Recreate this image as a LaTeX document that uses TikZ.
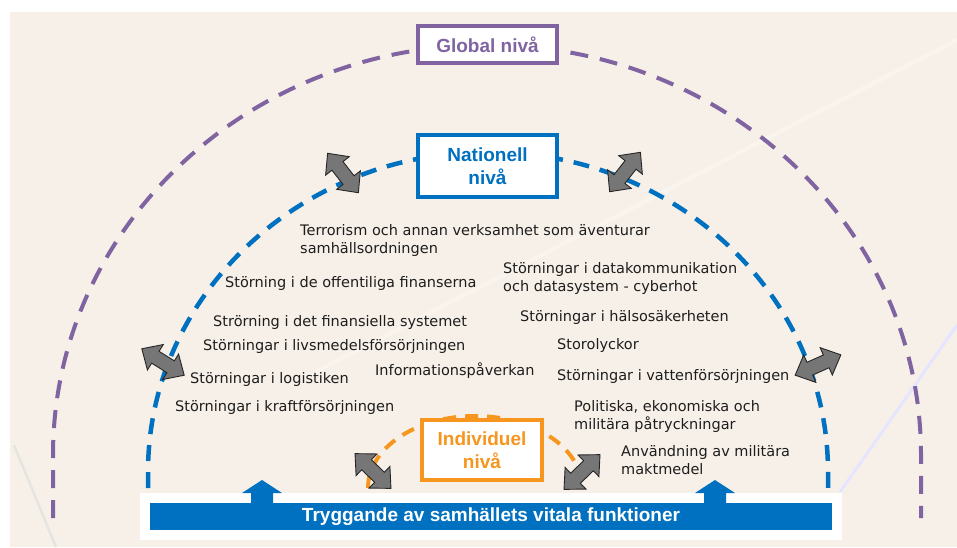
\documentclass[tikz,border=0pt]{standalone}
\usepackage{fontspec}
\setmainfont{DejaVu Sans}
\newfontfamily\hd{Liberation Sans}
\definecolor{bg}{HTML}{F7F0E8}
\definecolor{purp}{HTML}{8064A2}
\definecolor{blu}{HTML}{0070C0}
\definecolor{orng}{HTML}{F7961E}
\definecolor{arrgrey}{HTML}{767676}
\definecolor{txt}{HTML}{1E1E1E}
\tikzset{
  lbl/.style={font=\fontsize{14.5}{18}\selectfont, text=txt, anchor=west, inner sep=0pt, align=left},
  levelbox/.style={draw, fill=white, line width=3.5pt, inner sep=0pt, align=center,
                   font=\hd\bfseries\fontsize{19}{23}\selectfont},
  purparc/.style={purp, line width=4pt, dash pattern=on 18pt off 12pt},
  bluarc/.style={blu, line width=4.5pt, dash pattern=on 16pt off 11pt},
  orngarc/.style={orng, line width=4pt, dash pattern=on 13pt off 9pt},
  dbl/.pic={\draw[fill=arrgrey, draw=black!85, line width=0.9pt, line join=miter]
     (-25,0) -- (-9,-15) -- (-9,-7) -- (9,-7) -- (9,-15) -- (25,0)
     -- (9,15) -- (9,7) -- (-9,7) -- (-9,15) -- cycle;},
  uparr/.pic={\fill[blu] (0,-23) -- (20,-10) -- (11,-10) -- (11,0) -- (-11,0)
     -- (-11,-10) -- (-20,-10) -- cycle;}
}
\begin{document}
\begin{tikzpicture}[x=1pt,y=-1pt]
\useasboundingbox (0,0) rectangle (957,547);
\fill[white] (0,0) rectangle (957,547);
\fill[bg] (10,12) rectangle (957,547);
% faint background lines
\draw[gray!25, opacity=0.7, line width=2.5pt] (14,445) -- (56,547);
\draw[blue!10, line width=3pt] (840,492) -- (957,325);
\draw[white, opacity=0.3, line width=4pt] (300,380) -- (957,40);

% dashed level arcs
\draw[purparc] (53,518) -- (53,455) arc[start angle=180, end angle=0, x radius=434pt, y radius=410pt] -- (921,518);
\draw[bluarc] (148,488) -- (148,472) arc[start angle=180, end angle=0, x radius=340pt, y radius=320pt] -- (828,490);
\draw[orngarc] (368,488) arc[start angle=180, end angle=0, x radius=107pt, y radius=72pt];

% level boxes
\node[levelbox, draw=purp, text=purp, minimum width=139pt, minimum height=37pt] (global) at (487.5,44.5) {Global nivå};
\node[levelbox, draw=blu, text=blu, minimum width=139pt, minimum height=62pt] (nat) at (487.5,166) {Nationell\\nivå};
\node[levelbox, draw=orng, text=orng, minimum width=120pt, minimum height=60pt] (ind) at (482,450) {Individuel\\nivå};

% bottom bar
\node[fill=white, minimum width=702pt, minimum height=47pt, inner sep=0pt] (barbg) at (491,516.5) {};
\node[fill=blu, minimum width=682pt, minimum height=27pt, inner sep=0pt, text=white,
      font=\hd\bfseries\fontsize{19}{22}\selectfont] (bar) at (491,516.5) {Tryggande av samhällets vitala funktioner};
\pic at (262,503) {uparr};
\pic at (715,503) {uparr};

% labels
\node[lbl] (l1) at (300,240) {Terrorism och annan verksamhet som äventurar\\samhällsordningen};
\node[lbl] (l2) at (225,283) {Störning i de offentiliga finanserna};
\node[lbl] (l3) at (503,278) {Störningar i datakommunikation\\och datasystem - cyberhot};
\node[lbl] (l4) at (213,322) {Strörning i det finansiella systemet};
\node[lbl] (l5) at (520,317) {Störningar i hälsosäkerheten};
\node[lbl] (l6) at (203,346) {Störningar i livsmedelsförsörjningen};
\node[lbl] (l7) at (557,345) {Storolyckor};
\node[lbl] (l8) at (375,371) {Informationspåverkan};
\node[lbl] (l9) at (190,379) {Störningar i logistiken};
\node[lbl] (l10) at (557,376) {Störningar i vattenförsörjningen};
\node[lbl] (l11) at (175,407) {Störningar i kraftförsörjningen};
\node[lbl] (l12) at (574,416) {Politiska, ekonomiska och\\militära påtryckningar};
\node[lbl] (l13) at (621,460) {Användning av militära\\maktmedel};

% grey double arrows
\pic[rotate=-52] at (343,173) {dbl};
\pic[rotate=52] at (625,172) {dbl};
\pic[rotate=-32] at (163,362) {dbl};
\pic[rotate=24] at (818,365) {dbl};
\pic[rotate=-44] at (373,471) {dbl};
\pic[rotate=44] at (582,472) {dbl};
\end{tikzpicture}
\end{document}
